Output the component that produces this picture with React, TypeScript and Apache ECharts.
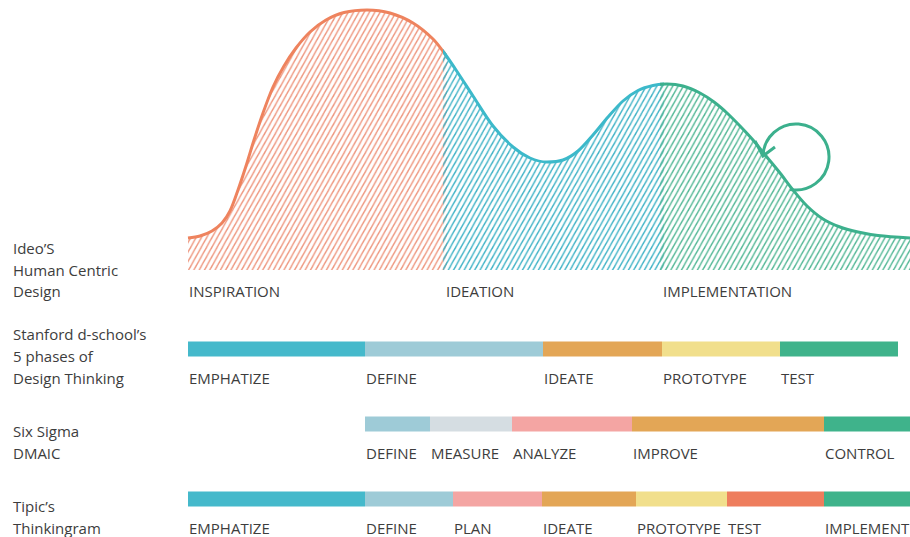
import React, { useEffect, useRef } from 'react';
import * as echarts from 'echarts';

// ---- Curve (Ideo's Human Centric Design) ----
// x: position along the process (0..722), y: height of the curve
const curveX = [0, 12, 24, 34, 42, 50, 58, 66, 75, 85, 96, 108, 122, 138, 156, 179, 202, 225, 245, 257, 270, 285, 305, 325, 342, 359, 375, 390, 405, 420, 435, 450, 465, 479, 495, 512, 526, 539, 552, 565, 578, 592, 605, 619, 635, 652, 670, 690, 722];
const curveY = [32, 34, 39, 47, 59, 80, 104, 130, 157, 183, 204, 222, 238, 250, 257.5, 260, 257, 247, 231, 216, 197, 174, 144, 123, 112, 108, 110, 119, 135, 153, 169, 179.5, 184.5, 186, 184, 177, 168, 157, 144, 130, 114, 97, 80, 64, 51, 43, 38, 34.5, 32];
const ideoPhases = ['INSPIRATION', 'IDEATION', 'IMPLEMENTATION'];
const ideoBounds = [0, 257, 474, 722];
const loopCenter = [608, 113];

// ---- Bar rows ----
const rowTitles = ['Stanford d-school’s\n5 phases of\nDesign Thinking', 'Six Sigma\nDMAIC', 'Tipic’s\nThinkingram'];
const ideoTitle = 'Ideo’S\nHuman Centric\nDesign';

const stanfordPhases = ['EMPHATIZE', 'DEFINE', 'IDEATE', 'PROTOTYPE', 'TEST'];
const stanfordBounds = [0, 177, 355, 474, 592, 710];
const sigmaPhases = ['DEFINE', 'MEASURE', 'ANALYZE', 'IMPROVE', 'CONTROL'];
const sigmaBounds = [177, 242, 324, 444, 636, 722];
const tipicPhases = ['EMPHATIZE', 'DEFINE', 'PLAN', 'IDEATE', 'PROTOTYPE', 'TEST', 'IMPLEMENT'];
const tipicBounds = [0, 177, 265, 354, 448, 539, 636, 722];

// ---- Styles ----
const C = {
  cyan: '#45B9CB',
  lblue: '#9ECBD7',
  orange: '#E3A656',
  yellow: '#F1DF8C',
  green: '#3FB38B',
  gray: '#D5DDE2',
  pink: '#F4A5A3',
  coral: '#EE7D5D',
};
const stanfordColors = [C.cyan, C.lblue, C.orange, C.yellow, C.green];
const sigmaColors = [C.lblue, C.gray, C.pink, C.orange, C.green];
const tipicColors = [C.cyan, C.lblue, C.pink, C.orange, C.yellow, C.coral, C.green];

const curveLineColors = ['#EE835E', '#3CB9CA', '#3CB08D'];
const curveHatchColors = ['#EE967E', '#3EB2C6', '#52B795'];
const TEXT = '#3d3d3d';
const FONT = '"Open Sans", "Noto Sans", sans-serif';
const FS = 15;

function hatch(color: string) {
  const w = 5.3;
  const h = 9.5;
  const svg =
    `<svg xmlns="http://www.w3.org/2000/svg" width="${w}" height="${h}" viewBox="0 0 ${w} ${h}">` +
    `<g stroke="${color}" stroke-width="1.4" fill="none">` +
    `<line x1="${-w}" y1="${h}" x2="${w}" y2="${-h}"/>` +
    `<line x1="${-w}" y1="${2 * h}" x2="${2 * w}" y2="${-h}"/>` +
    `<line x1="0" y1="${2 * h}" x2="${2 * w}" y2="0"/>` +
    `</g></svg>`;
  return {
    image: 'data:image/svg+xml;charset=utf-8,' + encodeURIComponent(svg),
    repeat: 'repeat',
    imageWidth: w,
    imageHeight: h,
  };
}

export default function App() {
  const ref = useRef<HTMLDivElement>(null);

  useEffect(() => {
    document.body.style.margin = '0';
    if (!ref.current) return;
    const chart = echarts.init(ref.current, null, { renderer: 'svg' });

    const curveData = curveX.map((x, i) => [x, curveY[i]]);

    const barRows = [
      { phases: stanfordPhases, bounds: stanfordBounds, colors: stanfordColors },
      { phases: sigmaPhases, bounds: sigmaBounds, colors: sigmaColors },
      { phases: tipicPhases, bounds: tipicBounds, colors: tipicColors },
    ];
    const barItems: number[][] = [];
    const barNames: string[] = [];
    const barFill: string[] = [];
    barRows.forEach((r, ri) => {
      r.phases.forEach((p, i) => {
        barItems.push([r.bounds[i], r.bounds[i + 1], ri]);
        barNames.push(p);
        barFill.push(r.colors[i]);
      });
    });

    const segGrids = [
      { left: 188, width: 257 },
      { left: 445, width: 217 },
      { left: 662, width: 248 },
    ];

    const grid: any[] = segGrids.map((g) => ({ left: g.left, width: g.width, top: 0, height: 270 }));
    grid.push({ left: 188, width: 722, top: 311.5, height: 225 });

    const xAxis: any[] = [0, 1, 2].map((i) => ({
      type: 'value',
      gridIndex: i,
      min: ideoBounds[i],
      max: ideoBounds[i + 1],
      show: false,
    }));
    xAxis.push({ type: 'value', gridIndex: 3, min: 0, max: 722, show: false });

    const yAxis: any[] = [0, 1, 2].map((i) => ({
      type: 'value',
      gridIndex: i,
      min: 0,
      max: 270,
      show: false,
    }));
    yAxis.push({
      type: 'category',
      gridIndex: 3,
      data: rowTitles,
      inverse: true,
      show: false,
    });

    const lineSeries = [0, 1, 2].map((i) => ({
      type: 'line',
      xAxisIndex: i,
      yAxisIndex: i,
      data: curveData,
      smooth: 0.3,
      symbol: 'none',
      clip: true,
      lineStyle: { color: curveLineColors[i], width: 3 },
      areaStyle: { color: hatch(curveHatchColors[i]), opacity: 1 },
      z: 2 + i,
    }));

    const textStyle = (text: string, x: number, y: number) => ({
      text,
      x,
      y,
      verticalAlign: 'middle',
      align: 'left',
      fill: TEXT,
      fontSize: FS,
      fontFamily: FONT,
    });

    const option: any = {
      animation: false,
      backgroundColor: '#ffffff',
      grid,
      xAxis,
      yAxis,
      series: [
        ...lineSeries,
        {
          type: 'custom',
          xAxisIndex: 0,
          yAxisIndex: 0,
          data: ideoBounds.slice(0, 3).map((b) => [b, 0]),
          z: 10,
          renderItem: (params: any, api: any) => {
            const p = api.coord([api.value(0), api.value(1)]);
            return { type: 'text', style: textStyle(ideoPhases[params.dataIndex], p[0] + 1, p[1] + 21) };
          },
        },
        {
          type: 'custom',
          xAxisIndex: 2,
          yAxisIndex: 2,
          data: [loopCenter],
          z: 10,
          renderItem: (params: any, api: any) => {
            const c = api.coord([api.value(0), api.value(1)]);
            const stroke = curveLineColors[2];
            return {
              type: 'group',
              x: c[0],
              y: c[1],
              children: [
                {
                  type: 'arc',
                  shape: { cx: 0, cy: 0, r: 33, startAngle: 1.75, endAngle: -Math.PI + 0.03, clockwise: false },
                  style: { stroke, lineWidth: 3, fill: 'none' },
                },
                {
                  type: 'polyline',
                  shape: { points: [[-41, -16], [-33, -1], [-21, -10]] },
                  style: { stroke, lineWidth: 3, fill: 'none', lineJoin: 'miter' },
                },
              ],
            };
          },
        },
        {
          type: 'custom',
          xAxisIndex: 3,
          yAxisIndex: 3,
          data: barItems,
          encode: { x: [0, 1], y: 2 },
          z: 5,
          renderItem: (params: any, api: any) => {
            const row = api.value(2);
            const s = api.coord([api.value(0), row]);
            const e = api.coord([api.value(1), row]);
            const h = 15;
            return {
              type: 'group',
              children: [
                {
                  type: 'rect',
                  shape: { x: s[0], y: s[1] - h / 2, width: e[0] - s[0], height: h },
                  style: { fill: barFill[params.dataIndex] },
                },
                {
                  type: 'text',
                  style: textStyle(barNames[params.dataIndex], s[0] + 1, s[1] + 28.5),
                },
              ],
            };
          },
        },
      ],
      graphic: [
        { type: 'text', x: 13, y: 291 + 10.75, style: { text: ideoTitle, fill: TEXT, fontSize: FS, fontFamily: FONT, lineHeight: 21.5, verticalAlign: 'bottom' } },
        { type: 'text', x: 13, y: 377.5 + 11, style: { text: rowTitles[0], fill: TEXT, fontSize: FS, fontFamily: FONT, lineHeight: 22, verticalAlign: 'bottom' } },
        { type: 'text', x: 13, y: 452.5 + 10.75, style: { text: rowTitles[1], fill: TEXT, fontSize: FS, fontFamily: FONT, lineHeight: 21.5, verticalAlign: 'bottom' } },
        { type: 'text', x: 13, y: 527.5 + 10.75, style: { text: rowTitles[2], fill: TEXT, fontSize: FS, fontFamily: FONT, lineHeight: 21.5, verticalAlign: 'bottom' } },
      ],
    };

    chart.setOption(option);
    return () => chart.dispose();
  }, []);

  return <div ref={ref} style={{ width: 910, height: 537 }} />;
}
